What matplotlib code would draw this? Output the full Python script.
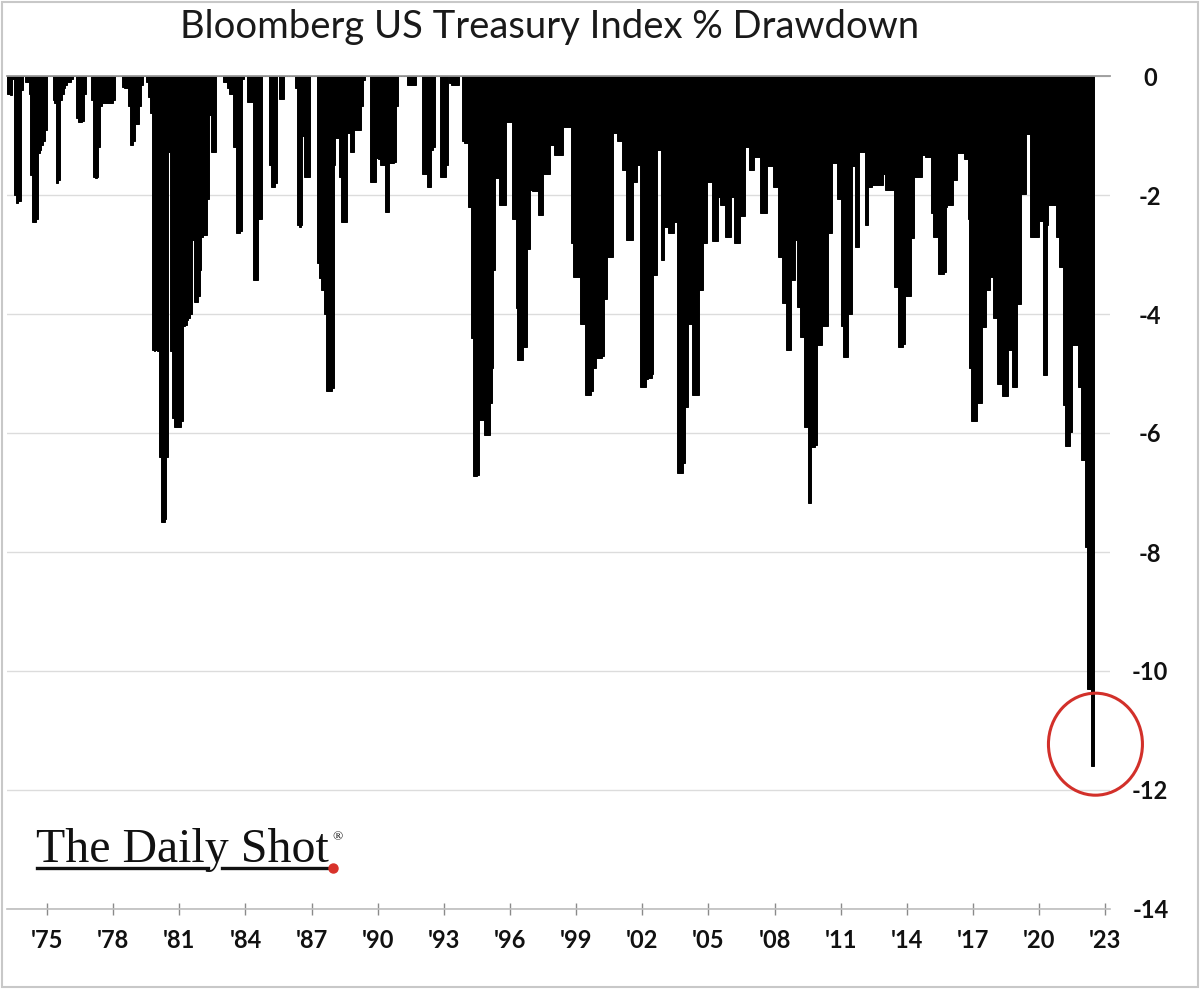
import matplotlib
matplotlib.use("Agg")
import matplotlib.pyplot as plt
from matplotlib.patches import Ellipse, Rectangle
from matplotlib.lines import Line2D
import numpy as np

plt.rcParams['axes.unicode_minus'] = False
plt.rcParams['font.family'] = ['Lato', 'DejaVu Sans']

# ---------------- data: monthly % drawdown, first bar = Mar 1973 ----------------
start_year = 1973
start_month = 3

dd_1970s = [
    -0.3, -0.3, -0.32, -0.05, -2.0, -2.14, -2.1, -2.1, -0.24, 0.0,             # 1973 (Mar-Dec)
    -0.1, -0.1, -0.3, -1.66, -2.45, -2.45, -2.4, -1.3, -1.25, -1.16, -1.1, -0.9,  # 1974
    0.0, 0.0, 0.0, -0.4, -0.45, -1.8, -1.75, -0.4, -0.3, -0.2, -0.15, -0.1,       # 1975
    -0.1, -0.05, 0.0, 0.0, -0.7, -0.77, -0.77, -0.75, -0.3, 0.0, 0.0, 0.0,        # 1976
    -0.4, -1.7, -1.72, -1.7, -1.2, -0.5, -0.46, -0.46, -0.46, -0.46, -0.46, -0.46,  # 1977
    -0.4, 0.0, 0.0, 0.0, 0.0, -0.18, -0.2, -0.2, -0.5, -1.16, -1.16, -1.1,        # 1978
    -0.8, -0.8, -0.5, -0.15, 0.0, 0.0, -0.1, -0.35, -0.63, -4.6, -4.63, -4.6,     # 1979
]
dd_1980s = [
    -4.63, -6.4, -7.49, -7.49, -7.45, -6.4, -1.27, -4.63, -5.75, -5.9, -5.9, -5.9,  # 1980
    -5.9, -5.8, -4.2, -4.18, -4.1, -4.07, -4.0, -2.76, -3.8, -3.8, -3.7, -3.26,     # 1981
    -2.7, -2.67, -2.67, -2.06, -0.66, -1.27, -1.27, -1.27, 0.0, 0.0, 0.0, 0.0,      # 1982
    -0.1, -0.1, -0.2, -0.3, -0.3, -1.19, -1.19, -2.64, -2.64, -2.6, -0.05, 0.0,     # 1983
    0.0, -0.43, -0.43, -0.43, -3.43, -3.43, -3.43, -2.4, -2.4, 0.0, 0.0, 0.0,       # 1984
    0.0, -1.5, -1.87, -1.87, -1.8, 0.0, -0.38, -0.38, -0.38, 0.0, 0.0, 0.0,         # 1985
    0.0, 0.0, 0.0, -0.2, -2.5, -2.53, -2.5, -1.0, -1.7, -1.7, -1.7, 0.0,            # 1986
    0.0, 0.0, 0.0, -3.15, -3.4, -3.6, -3.6, -4.0, -5.3, -5.3, -5.3, -5.25,          # 1987
    -1.5, -1.05, -1.05, -1.69, -2.45, -2.45, -2.45, -0.96, -0.96, -1.27, -1.27, -0.91,  # 1988
    -0.91, -0.91, -0.91, -0.5, -0.07, 0.0, 0.0, 0.0, -1.78, -1.78, -1.78, -1.38,    # 1989
]
dd_1990s = [
    -1.4, -1.5, -1.5, -1.5, -2.28, -2.28, -1.47, -1.47, -1.47, -1.45, -0.5, 0.0,    # 1990
    0.0, 0.0, 0.0, 0.0, -0.15, -0.15, -0.15, -0.15, -0.15, 0.0, 0.0, 0.0,           # 1991
    -1.64, -1.64, -1.64, -1.86, -1.86, -1.24, -1.2, 0.0, 0.0, 0.0, -1.69, -1.69,    # 1992
    -1.69, -1.5, 0.0, -0.12, -0.15, -0.15, -0.15, -0.15, 0.0, 0.0, -1.1, -1.13,     # 1993
    -1.13, -2.2, -2.2, -4.4, -6.73, -6.73, -6.7, -5.78, -5.78, -5.78, -6.03, -6.03,  # 1994
    -6.03, -5.5, -4.9, -3.26, -1.72, -1.72, -2.17, -2.17, -2.17, -2.17, -0.77, -0.77,  # 1995
    -0.77, -2.4, -2.4, -3.9, -4.77, -4.77, -4.77, -4.55, -4.55, -2.9, -2.9, -1.92,   # 1996
    -1.94, -1.94, -1.94, -2.34, -2.34, -2.34, -1.64, -1.64, -1.64, -1.64, -1.16, -1.16,  # 1997
    -1.33, -1.33, -1.33, -1.33, -1.33, -0.85, -0.85, -0.85, -0.85, -2.81, -3.37, -3.37,  # 1998
    -3.37, -3.37, -4.16, -4.16, -4.16, -5.36, -5.36, -5.36, -5.3, -4.91, -4.91, -4.74,   # 1999
]
dd_2000s = [
    -4.74, -4.74, -4.7, -3.74, -3.74, -3.04, -3.04, -3.04, -0.96, -0.96, -1.1, -1.1,  # 2000
    -1.1, -1.58, -1.58, -2.76, -2.76, -2.76, -2.76, -1.78, -1.78, -1.5, -1.5, -5.22,  # 2001
    -5.22, -5.22, -5.1, -5.08, -5.08, -5.0, -3.34, -3.34, -1.24, -1.24, -3.09, -3.09,  # 2002
    -2.53, -2.53, -2.64, -2.64, -2.64, -2.45, -2.45, -6.68, -6.68, -6.68, -6.5, -5.56,  # 2003
    -5.56, -4.16, -4.16, -5.36, -5.36, -5.36, -5.36, -3.6, -3.6, -2.81, -2.81, -1.78,  # 2004
    -1.78, -1.78, -2.78, -2.78, -2.78, -2.03, -2.17, -2.17, -2.17, -2.7, -2.7, -2.7,   # 2005
    -2.03, -2.03, -2.81, -2.81, -2.81, -2.36, -2.36, -2.36, -1.19, -1.19, -1.58, -1.58,  # 2006
    -1.58, -1.36, -1.36, -1.36, -2.3, -2.3, -2.3, -2.3, -1.52, -1.52, -1.52, -1.86,    # 2007
    -1.86, -1.86, -3.04, -3.04, -3.82, -3.82, -4.6, -4.6, -4.6, -3.43, -3.43, -2.76,   # 2008
    -3.88, -3.88, -4.38, -4.38, -5.9, -5.9, -7.18, -7.18, -6.23, -6.23, -6.2, -4.52,   # 2009
]
dd_2010s = [
    -4.52, -4.52, -4.21, -4.21, -4.21, -2.64, -2.64, -1.47, -1.47, -1.47, -2.06, -2.06,  # 2010
    -4.21, -4.72, -4.72, -4.72, -4.0, -4.0, -1.52, -1.52, -2.87, -2.87, -1.27, -1.27,    # 2011
    -1.27, -2.5, -2.5, -1.86, -1.86, -1.83, -1.83, -1.83, -1.83, -1.83, -1.83, -1.64,    # 2012
    -1.92, -1.92, -1.92, -1.92, -1.92, -3.54, -3.54, -4.55, -4.55, -4.55, -4.5, -3.7,    # 2013
    -3.7, -3.7, -2.73, -2.73, -1.69, -1.69, -1.69, -1.69, -1.33, -1.33, -1.36, -1.36,    # 2014
    -1.36, -2.3, -2.7, -2.7, -2.7, -3.33, -3.33, -3.33, -3.3, -2.2, -2.17, -2.17,        # 2015
    -2.17, -1.75, -1.75, -1.29, -1.29, -1.29, -1.29, -1.4, -1.4, -2.4, -4.91, -5.8,      # 2016
    -5.8, -5.8, -5.49, -5.49, -5.49, -4.22, -4.22, -3.6, -3.6, -3.37, -3.37, -4.06,      # 2017
    -4.06, -5.18, -5.18, -5.18, -5.37, -5.37, -5.37, -4.6, -4.6, -5.22, -5.22, -5.22,    # 2018
    -3.83, -3.83, -1.98, -1.98, -1.98, -0.98, -0.98, -2.7, -2.7, -2.7, -2.7, -2.7,       # 2019
]
dd_2020s = [
    -2.44, -2.44, -5.03, -5.03, -2.5, -2.17, -2.17, -2.17, -2.17, -2.71, -2.71, -3.21,   # 2020
    -3.21, -5.53, -6.22, -6.22, -6.22, -5.99, -4.52, -4.52, -4.52, -5.22, -5.22, -6.45,  # 2021
    -6.45, -7.92, -10.3, -10.3, -11.6, -11.6,                                            # 2022 (Jan-Jun)
]

year_ticks = list(range(1975, 2024, 3))
y_ticks = [0, -2, -4, -6, -8, -10, -12, -14]

title = "Bloomberg US Treasury Index % Drawdown"

# ---------------- build series ----------------
values = np.array(dd_1970s + dd_1980s + dd_1990s + dd_2000s + dd_2010s + dd_2020s)
n = len(values)
t = start_year + (start_month - 1 + np.arange(n)) / 12.0

W, H = 1200, 989
fig = plt.figure(figsize=(W / 100, H / 100), dpi=100)
fig.patch.set_facecolor('white')

ax_left, ax_right = 7 / W, 1110 / W
ax_bottom, ax_top = (H - 909) / H, (H - 76) / H
ax = fig.add_axes([ax_left, ax_bottom, ax_right - ax_left, ax_top - ax_bottom])

ax.bar(t, values, width=1 / 12, align='edge', color='black',
       edgecolor='black', linewidth=0.7, zorder=2)

ax.set_xlim(1973.186, 2023.21)
ax.set_ylim(-14, 0)

# grid
ax.set_yticks(y_ticks)
ax.yaxis.grid(True, color='#dcdcdc', linewidth=1.0, zorder=0)
ax.set_axisbelow(True)

# spines
for s in ['left', 'right']:
    ax.spines[s].set_visible(False)
ax.spines['top'].set_color('#9a9a9a')
ax.spines['top'].set_linewidth(1.3)
ax.spines['top'].set_zorder(4)
ax.spines['bottom'].set_color('#bdbdbd')
ax.spines['bottom'].set_linewidth(1.2)

# y tick labels on the right, centred
ax.yaxis.tick_right()
ax.tick_params(axis='y', length=0, pad=29, labelsize=17, labelcolor='#111111')
ax.set_yticklabels([str(v) for v in y_ticks])
for lab in ax.get_yticklabels():
    lab.set_horizontalalignment('center')
    lab.set_fontweight('bold')

# x ticks
ax.set_xticks(year_ticks)
ax.set_xticklabels(["'%02d" % (y % 100) for y in year_ticks])
ax.tick_params(axis='x', direction='inout', length=9, width=1.0, color='#8a8a8a',
               pad=10, labelsize=17, labelcolor='#111111')
for lab in ax.get_xticklabels():
    lab.set_fontweight('bold')

# red circle highlight around the latest value
circ = Ellipse((2022.55, -11.23), width=94 / 22.05, height=102 / 59.5, fill=False,
               edgecolor='#d2302a', linewidth=2.2, clip_on=False, zorder=5)
ax.add_patch(circ)

# title
fig.text(550 / W, 1 - 27 / H, title, ha='center', va='center', fontsize=27.5,
         color='#1a1a1a', family=['Lato', 'DejaVu Sans'])

# logo
fig.text(36 / W, 1 - 862 / H, "The Daily Shot", ha='left', va='baseline',
         fontsize=34.5, color='#111111', family=['Liberation Serif', 'DejaVu Serif'])
fig.text(332 / W, 1 - 840 / H, "\u00ae", ha='left', va='baseline',
         fontsize=9.5, color='#111111', family=['Liberation Serif', 'DejaVu Serif'])
yl = 1 - 868 / H
fig.add_artist(Line2D([37 / W, 208 / W], [yl, yl], color='#111111', linewidth=2.4))
fig.add_artist(Line2D([222 / W, 331 / W], [yl, yl], color='#111111', linewidth=2.4))
fig.add_artist(Line2D([333 / W], [yl], marker='o', markersize=6.5, color='#d8322a',
                      linestyle='none'))

# light image frame
fig.add_artist(Rectangle((0.002, 0.002), 0.996, 0.996, transform=fig.transFigure,
                         fill=False, edgecolor='#c8c8c8', linewidth=1.5))

fig.savefig('out.png', dpi=100, facecolor='white')
